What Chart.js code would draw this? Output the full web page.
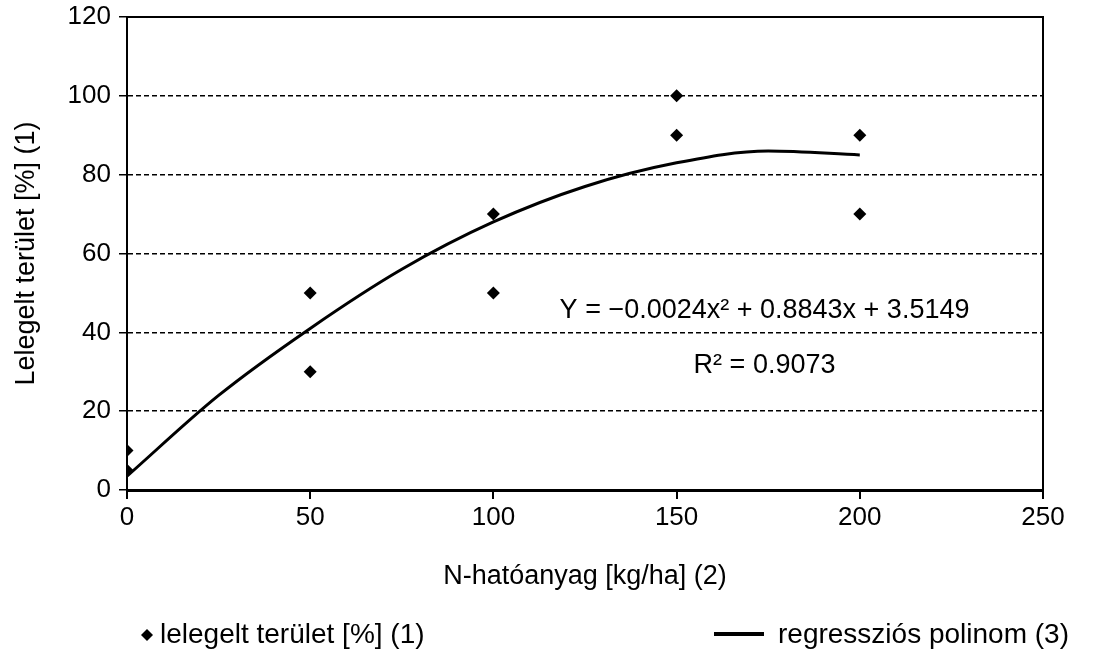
<!DOCTYPE html>
<html>
<head>
<meta charset="utf-8">
<script src="https://cdn.jsdelivr.net/npm/chart.js@4/dist/chart.umd.min.js"></script>
<style>
  html, body { margin: 0; padding: 0; background: #fff; }
  #wrap { width: 1099px; height: 660px; }
</style>
</head>
<body>
<div id="wrap"><canvas id="chart" width="1099" height="660"></canvas></div>
<script>
// ======================================
// DATA
// ======================================
const pointX = [0, 0, 50, 50, 100, 100, 150, 150, 200, 200];
const pointY = [10, 5, 50, 30, 70, 50, 100, 90, 90, 70];

// regression curve
const curveX = [0, 25, 50, 75, 100, 125, 150, 175, 200];
const curveY = [3.5, 24, 41, 56, 68, 77, 83, 86, 85];

const xTicks = [0, 50, 100, 150, 200, 250];
const yTicks = [0, 20, 40, 60, 80, 100, 120];

const seriesNames = ["lelegelt terület [%] (1)", "regressziós polinom (3)"];
const xTitle = "N-hatóanyag [kg/ha] (2)";
const yTitle = "Lelegelt terület [%] (1)";
const eqText = "Y = \u22120.0024x\u00B2 + 0.8843x + 3.5149";
const r2Text = "R\u00B2 = 0.9073";

const FONT = "'Liberation Sans', Arial, sans-serif";

// ======================================
// PLUGINS
// ======================================
const frame = {
    id: "frame",
    afterDatasetsDraw(chart) {
        const { ctx, chartArea: a, scales } = chart;
        ctx.save();
        ctx.strokeStyle = "#000";
        ctx.lineWidth = 2;
        ctx.strokeRect(a.left, a.top, a.right - a.left, a.bottom - a.top);
        // equation text
        ctx.fillStyle = "#000";
        ctx.font = "27px " + FONT;
        ctx.textAlign = "center";
        ctx.textBaseline = "middle";
        ctx.fillText(eqText, scales.x.getPixelForValue(174), scales.y.getPixelForValue(45.5));
        ctx.fillText(r2Text, scales.x.getPixelForValue(174), scales.y.getPixelForValue(31.5));
        ctx.restore();
    }
};

const bottomLegend = {
    id: "bottomLegend",
    afterDraw(chart) {
        const { ctx } = chart;
        const y = 635;
        ctx.save();
        ctx.fillStyle = "#000";
        ctx.strokeStyle = "#000";
        // diamond marker
        ctx.beginPath();
        ctx.moveTo(147, y - 6);
        ctx.lineTo(153, y);
        ctx.lineTo(147, y + 6);
        ctx.lineTo(141, y);
        ctx.closePath();
        ctx.fill();
        ctx.font = "28px " + FONT;
        ctx.textBaseline = "middle";
        ctx.textAlign = "left";
        ctx.fillText(chart.data.datasets[0].label, 160, y);
        // line marker
        ctx.lineWidth = 4;
        ctx.beginPath();
        ctx.moveTo(714, y - 1);
        ctx.lineTo(764, y - 1);
        ctx.stroke();
        ctx.fillText(chart.data.datasets[1].label, 778, y);
        ctx.restore();
    }
};

// ======================================
// CHART
// ======================================
const ctx = document.getElementById("chart");
const chart = new Chart(ctx, {
    type: "scatter",
    data: {
        datasets: [
            {
                label: seriesNames[0],
                data: pointX.map((x, i) => ({ x: x, y: pointY[i] })),
                pointStyle: "rectRot",
                pointRadius: 6.5,
                backgroundColor: "#000",
                borderColor: "#000",
                borderWidth: 0
            },
            {
                label: seriesNames[1],
                data: curveX.map((x, i) => ({ x: x, y: curveY[i] })),
                showLine: true,
                pointRadius: 0,
                borderColor: "#000",
                borderWidth: 3,
                cubicInterpolationMode: "monotone"
            }
        ]
    },
    options: {
        responsive: false,
        animation: false,
        layout: { padding: { left: 10, right: 56, top: 17, bottom: 67 } },
        plugins: {
            legend: { display: false },
            tooltip: { enabled: false }
        },
        scales: {
            x: {
                type: "linear",
                min: 0,
                max: 250,
                afterBuildTicks: (s) => { s.ticks = xTicks.map(v => ({ value: v })); },
                afterFit: (s) => { s.height = 103; },
                grid: { drawOnChartArea: false, color: "#000", tickLength: 9, lineWidth: 2 },
                border: { display: true, color: "#000", width: 3 },
                ticks: { color: "#000", font: { family: FONT, size: 26 }, padding: 3, maxRotation: 0 },
                title: { display: true, text: xTitle, color: "#000", font: { family: FONT, size: 27 }, padding: 0 }
            },
            y: {
                min: 0,
                max: 120,
                afterBuildTicks: (s) => { s.ticks = yTicks.map(v => ({ value: v })); },
                afterFit: (s) => { s.width = 117; s.paddingTop = 0; s.paddingBottom = 0; },
                grid: { color: "#000", lineWidth: 1.5, tickLength: 8 },
                border: { display: true, color: "#000", width: 2, dash: [5, 3] },
                ticks: { color: "#000", font: { family: FONT, size: 26, lineHeight: 1 }, padding: 8 },
                title: { display: true, text: yTitle, color: "#000", font: { family: FONT, size: 27 }, padding: 0 }
            }
        }
    },
    plugins: [frame, bottomLegend]
});
</script>
</body>
</html>
